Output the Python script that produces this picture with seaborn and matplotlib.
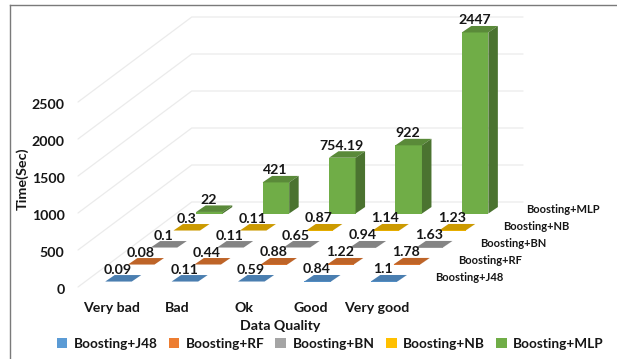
import matplotlib
matplotlib.use("Agg")
import matplotlib.pyplot as plt
from matplotlib.patches import Patch
from matplotlib.transforms import ScaledTranslation
import pandas as pd
import seaborn as sns

# Classification time per data quality level and boosted model
categories = ["Very bad", "Bad", "Ok", "Good", "Very good"]
series_names = ["Boosting+J48", "Boosting+RF", "Boosting+BN", "Boosting+NB", "Boosting+MLP"]
j48_values = [0.09, 0.11, 0.59, 0.84, 1.1]
rf_values = [0.08, 0.44, 0.88, 1.22, 1.78]
bn_values = [0.1, 0.11, 0.65, 0.94, 1.63]
nb_values = [0.3, 0.11, 0.87, 1.14, 1.23]
mlp_values = [22, 421, 754.19, 922, 2447]
value_labels = [
    ["0.09", "0.11", "0.59", "0.84", "1.1"],
    ["0.08", "0.44", "0.88", "1.22", "1.78"],
    ["0.1", "0.11", "0.65", "0.94", "1.63"],
    ["0.3", "0.11", "0.87", "1.14", "1.23"],
    ["22", "421", "754.19", "922", "2447"],
]
y_ticks = [0, 500, 1000, 1500, 2000, 2500]

series_values = [j48_values, rf_values, bn_values, nb_values, mlp_values]
front_colors = ["#5B9BD5", "#ED7D31", "#A5A5A5", "#FFC000", "#70AD47"]
top_colors = ["#4A7EB0", "#BE6428", "#848484", "#CC9A00", "#5A8A39"]
side_colors = ["#3A6490", "#9A5020", "#6A6A6A", "#A67C00", "#4B7330"]

sns.set_theme(style="white")
plt.rcParams["font.family"] = ["Lato", "DejaVu Sans"]
plt.rcParams["font.weight"] = "bold"

W, H = 617, 359
fig = plt.figure(figsize=(W / 100, H / 100), dpi=100)
ax = fig.add_axes([10.5 / W, 0, (W - 10.5) / W, (H - 4.5) / H])

# Scale of the oblique projection, in pixels per data unit
PX_X = 66.4
PX_Y = 0.074
ROW_DX = 22.75 / PX_X
ROW_DY = 17 / PX_Y
DEPTH_DX = 9.5 / PX_X
DEPTH_DY = 6.5 / PX_Y
BAR_W = 0.4
ROW_START = 0.32
WALL_DX = 5 * ROW_DX
WALL_DY = 5 * ROW_DY
WALL_LEFT = -0.5
WALL_RIGHT = (523 - 78) / PX_X - 0.5
LABEL_GAP = 12 / PX_Y
TEXT_COLOR = "#161616"

# Walls: a side segment and a back segment for every gridline
for tick in y_ticks:
    ax.plot([WALL_LEFT, WALL_LEFT + WALL_DX, WALL_RIGHT],
            [tick, tick + WALL_DY, tick + WALL_DY],
            color="#EBEBEB", lw=0.9, zorder=0.5)

# Rows are painted back to front so nearer rows overlap farther ones
for s in reversed(range(len(series_names))):
    d = s + ROW_START
    values = series_values[s]
    base = d * ROW_DY
    xs = [i + d * ROW_DX for i in range(len(categories))]
    frame = pd.DataFrame({"pos": xs, "time": values})
    z = 2 + (4 - s)
    sns.barplot(data=frame, x="pos", y="time", native_scale=True, width=BAR_W,
                bottom=base, color=front_colors[s], saturation=1, errorbar=None,
                linewidth=0, ax=ax, zorder=z)
    for x, v, text in zip(xs, values, value_labels[s]):
        left, right = x - BAR_W / 2, x + BAR_W / 2
        top = base + v
        ax.fill([left, right, right + DEPTH_DX, left + DEPTH_DX],
                [top, top, top + DEPTH_DY, top + DEPTH_DY],
                color=top_colors[s], lw=0, zorder=z)
        ax.fill([right, right + DEPTH_DX, right + DEPTH_DX, right],
                [base, base + DEPTH_DY, top + DEPTH_DY, top],
                color=side_colors[s], lw=0, zorder=z)
        ax.text(x - 0.01, top + LABEL_GAP, text, ha="center", va="center",
                fontsize=10.2, fontweight="bold", color=TEXT_COLOR, zorder=10)
    # Depth-axis label at the right end of each row
    ax.text(4.876 + s * ROW_DX, 122 + s * ROW_DY, series_names[s], ha="left",
            va="center", fontsize=8.0, fontweight="bold", color=TEXT_COLOR, zorder=10)

ax.set_xlim((10.5 - 78) / PX_X - 0.5, (W - 78) / PX_X - 0.5)
ax.set_ylim(-(H - 287) / PX_Y, (287 - 4.5) / PX_Y)

ax.set_xticks(range(len(categories)), categories)
ax.set_yticks(y_ticks, [str(t) for t in y_ticks])
ax.tick_params(axis="x", length=0, pad=-41, labelsize=10.2, labelcolor=TEXT_COLOR)
ax.tick_params(axis="y", length=0, pad=-39, labelsize=10.2, labelcolor=TEXT_COLOR)
ax.set_xlabel("")
ax.set_ylabel("")
for lab in ax.get_yticklabels():
    lab.set_transform(lab.get_transform() + ScaledTranslation(0, -1.5 / 72, fig.dpi_scale_trans))

ax.text((280 - 78) / PX_X - 0.5, -(325.5 - 287) / PX_Y, "Data Quality", ha="center",
        va="center", fontsize=10.2, fontweight="bold", color=TEXT_COLOR)
ax.text((22 - 78) / PX_X - 0.5, (287 - 179) / PX_Y, "Time(Sec)", rotation=90, ha="center",
        va="center", fontsize=10.4, fontweight="bold", color=TEXT_COLOR)

for side in ("right", "bottom"):
    ax.spines[side].set_visible(False)
for side in ("left", "top"):
    ax.spines[side].set_visible(True)
    ax.spines[side].set_color("#7A7A7A")
    ax.spines[side].set_linewidth(1.0)

handles = [Patch(facecolor=c, edgecolor="none", label=n) for c, n in zip(front_colors, series_names)]
ax.legend(handles=handles, ncol=5, frameon=False, loc="center",
          bbox_to_anchor=((330 - 10.5) / (W - 10.5), (359 - 344) / (H - 4.5)),
          fontsize=9.8, handlelength=0.8, handleheight=0.8, handletextpad=0.45,
          columnspacing=0.82, borderpad=0, labelcolor=TEXT_COLOR)

fig.savefig("out.png", dpi=100)
